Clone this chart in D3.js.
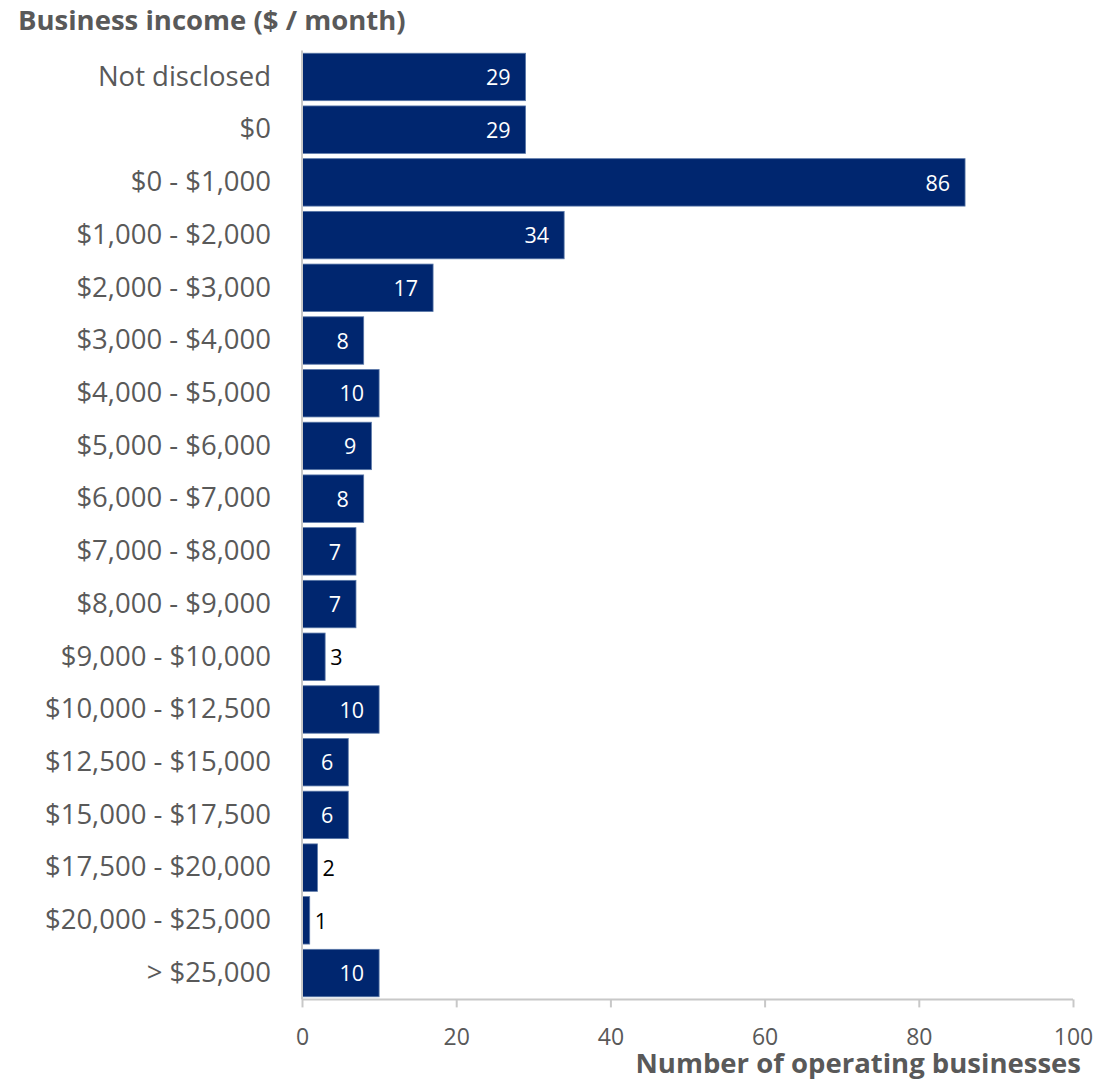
<!DOCTYPE html>
<html>
<head>
<meta charset="utf-8">
<script src="https://cdn.jsdelivr.net/npm/d3@7"></script>
<style>
  html, body { margin: 0; padding: 0; background: #ffffff; }
  svg { display: block; font-family: "Open Sans", "Noto Sans", sans-serif; }
</style>
</head>
<body>
<svg id="chart" width="1110" height="1080"></svg>
<script>
// Income bands (top to bottom) and number of operating businesses in each
const categories = [
  "Not disclosed", "$0", "$0 - $1,000", "$1,000 - $2,000", "$2,000 - $3,000",
  "$3,000 - $4,000", "$4,000 - $5,000", "$5,000 - $6,000", "$6,000 - $7,000",
  "$7,000 - $8,000", "$8,000 - $9,000", "$9,000 - $10,000", "$10,000 - $12,500",
  "$12,500 - $15,000", "$15,000 - $17,500", "$17,500 - $20,000",
  "$20,000 - $25,000", "> $25,000"
];
const counts = [29, 29, 86, 34, 17, 8, 10, 9, 8, 7, 7, 3, 10, 6, 6, 2, 1, 10];
const xTicks = [0, 20, 40, 60, 80, 100];

const titleText = "Business income ($ / month)";
const xAxisTitle = "Number of operating businesses";

const svg = d3.select("#chart");
const margin = { left: 302, right: 37, top: 50.6, bottom: 80.6 };
const W = 1110, H = 1080;

const x = d3.scaleLinear().domain([0, 100]).range([margin.left, W - margin.right]);
const y = d3.scaleBand().domain(categories).range([margin.top, H - margin.bottom]).paddingInner(0.1).paddingOuter(0.05);

const barColor = "#00266f";
const axisColor = "#c8c8c8";
const textGray = "#595959";

// Title
svg.append("text")
  .attr("x", 18).attr("y", 30)
  .attr("font-size", 27.5).attr("font-weight", 700)
  .attr("fill", textGray)
  .text(titleText);

// Bars
svg.append("g").selectAll("rect")
  .data(counts)
  .join("rect")
  .attr("x", x(0))
  .attr("y", (d, i) => y(categories[i]))
  .attr("width", d => x(d) - x(0))
  .attr("height", y.bandwidth())
  .attr("fill", barColor)
  .attr("stroke", "#5a78a8")
  .attr("stroke-width", 0.8);

// Category axis (left)
const yAxis = svg.append("g")
  .attr("transform", `translate(${x(0)},0)`)
  .call(d3.axisLeft(y).tickSize(0).tickPadding(31));
yAxis.select(".domain").attr("stroke", axisColor).attr("stroke-width", 2)
  .attr("d", `M0,${margin.top}V${H - margin.bottom}`);
yAxis.selectAll("text")
  .attr("font-size", 27.5).attr("fill", textGray)
  .attr("font-family", "'Open Sans', 'Noto Sans', sans-serif");

// Value axis (bottom)
const xAxis = svg.append("g")
  .attr("transform", `translate(0,${H - margin.bottom})`)
  .call(d3.axisBottom(x).tickValues(xTicks).tickSize(8).tickPadding(21));
xAxis.select(".domain").attr("stroke", axisColor).attr("stroke-width", 2)
  .attr("d", `M${x(0)},0H${x(100)}`);
xAxis.selectAll(".tick line").attr("stroke", axisColor).attr("stroke-width", 2);
xAxis.selectAll("text")
  .attr("font-size", 23).attr("fill", textGray)
  .attr("font-family", "'Open Sans', 'Noto Sans', sans-serif");

// Axis title
svg.append("text")
  .attr("x", 1081).attr("y", 1073)
  .attr("text-anchor", "end")
  .attr("font-size", 27.5).attr("font-weight", 700)
  .attr("fill", textGray)
  .text(xAxisTitle);

// Value labels: inside the bar end when the bar is wide enough, otherwise just outside
const insideMin = 5;
svg.append("g").selectAll("text")
  .data(counts)
  .join("text")
  .attr("x", d => d >= insideMin ? x(d) - 15 : x(d) + 5)
  .attr("y", (d, i) => y(categories[i]) + y.bandwidth() / 2)
  .attr("dy", "0.38em")
  .attr("text-anchor", d => d >= insideMin ? "end" : "start")
  .attr("font-size", 21.5)
  .attr("fill", d => d >= insideMin ? "#ffffff" : "#000000")
  .text(d => d);
</script>
</body>
</html>
